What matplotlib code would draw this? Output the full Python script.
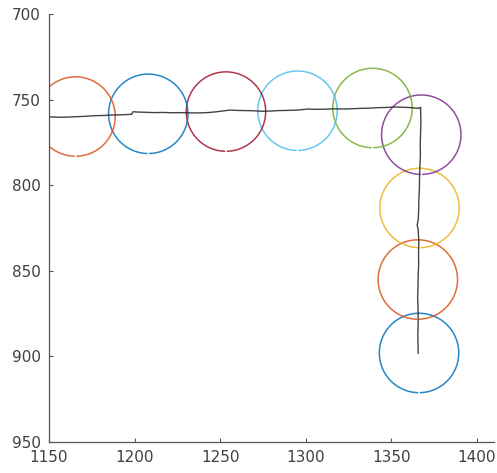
import numpy as np
import matplotlib
matplotlib.use('Agg')
import matplotlib.pyplot as plt

# circle centres (drawn bottom-first, like the original colour cycle)
circle_x = [1366.2, 1365.5, 1366.5, 1367.5, 1339.0, 1295.2, 1253.4, 1208.0, 1165.5]
circle_y = [898.0, 855.1, 813.3, 770.5, 754.9, 756.5, 757.0, 758.3, 759.9]
circle_r = 23.2
colors = ['#0072BD', '#D95319', '#EDB120', '#7E2F8E', '#77AC30',
          '#4DBEEE', '#A2142F', '#0072BD', '#D95319']

# tracked path
path_x = [1147.7, 1153.0, 1159.3, 1163.5, 1168.1, 1172.4, 1176.9, 1181.5, 1186.6,
          1192.0, 1198.3, 1199.1, 1202.5, 1206.1, 1211.0, 1216.8, 1222.4, 1228.0,
          1234.1, 1240.0, 1244.0, 1247.0, 1252.0, 1255.7, 1259.5, 1264.0, 1269.2,
          1274.0, 1279.1, 1284.5, 1290.0, 1295.4, 1301.3, 1306.0, 1311.5, 1317.0,
          1322.9, 1327.5, 1332.8, 1337.5, 1342.2, 1347.0, 1352.1, 1357.0, 1361.5,
          1365.5, 1367.3,
          1367.1, 1367.3, 1367.1, 1366.9, 1367.0, 1366.7, 1366.5, 1366.4, 1366.1,
          1366.0, 1365.7, 1365.1, 1365.7, 1366.1, 1365.9, 1366.0, 1365.7, 1365.6,
          1365.4, 1365.6, 1365.7, 1365.5, 1365.7]
path_y = [760.0, 760.2, 760.3, 760.1, 759.9, 759.7, 759.4, 759.3, 759.0,
          758.9, 758.6, 757.1, 757.3, 757.4, 757.6, 757.5, 757.7, 757.6,
          757.8, 757.7, 757.5, 757.2, 756.6, 756.1, 756.3, 756.4, 756.5,
          756.8, 756.7, 756.4, 756.3, 756.1, 755.5, 755.7, 755.6, 755.4,
          755.5, 755.3, 755.1, 755.0, 754.7, 754.6, 754.3, 754.5, 754.7,
          755.1, 754.6,
          754.9, 762.0, 769.5, 776.0, 782.5, 789.2, 795.5, 802.0, 808.6,
          814.5, 820.3, 823.2, 826.2, 833.0, 839.5, 846.0, 852.5, 859.0,
          865.5, 871.7, 880.0, 887.5, 898.2]

fig = plt.figure(figsize=(4.97, 4.73), dpi=100)
ax = fig.add_axes([49 / 497, 31 / 473, 445 / 497, 428 / 473])

# circles with the small gap at the bottom
gap = np.deg2rad(4.5)
theta = np.linspace(np.pi / 2 + gap / 2, np.pi / 2 + 2 * np.pi - gap / 2, 200)
for cx, cy, c in zip(circle_x, circle_y, colors):
    ax.plot(cx + circle_r * np.cos(theta), cy + circle_r * np.sin(theta),
            color=c, linewidth=1.1, alpha=0.85)

ax.plot(path_x, path_y, color='#222222', linewidth=1.0, alpha=0.85)

ax.set_xlim(1150, 1410)
ax.set_ylim(950, 700)
ax.set_xticks([1150, 1200, 1250, 1300, 1350, 1400])
ax.set_yticks([700, 750, 800, 850, 900, 950])

ax.spines['top'].set_visible(False)
ax.spines['right'].set_visible(False)
for s in ('left', 'bottom'):
    ax.spines[s].set_color('#555555')
    ax.spines[s].set_linewidth(0.9)
ax.tick_params(direction='in', length=3, width=0.8, colors='#555555',
               labelcolor='#404040', labelsize=11)
ax.tick_params(axis='x', pad=6)
ax.tick_params(axis='y', pad=6)

fig.savefig('out.png', dpi=100, facecolor='white')
